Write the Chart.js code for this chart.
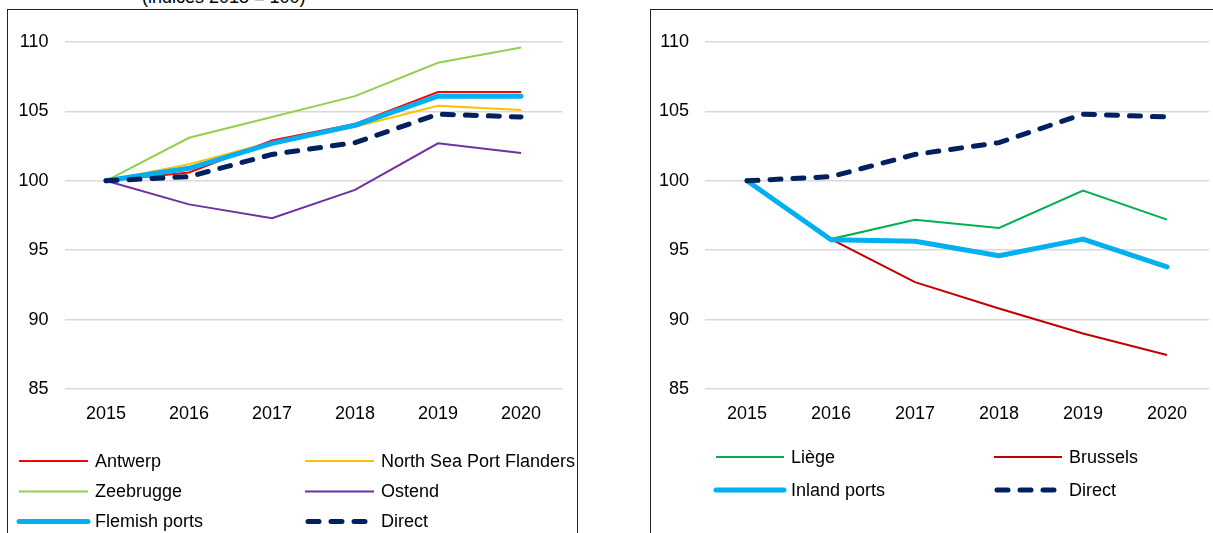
<!DOCTYPE html>
<html lang="en">
<head>
  <meta charset="UTF-8" />
  <title>Port indices 2015 = 100</title>
  <style>
    body {
      margin: 0;
      width: 1213px;
      height: 533px;
      overflow: hidden;
      position: relative;
      background: #fff;
      font-family: 'Liberation Sans', Arial, sans-serif;
    }
    .panel {
      position: absolute;
      border: 1px solid #222;
      box-sizing: border-box;
    }
    #panel-left { left: 7px; top: 9px; width: 571px; height: 560px; }
    #panel-right { left: 650px; top: 9px; width: 600px; height: 560px; }
    .title {
      position: absolute;
      left: 142px;
      top: -13px;
      font-size: 18px;
      line-height: 20px;
      color: #000;
      white-space: nowrap;
    }
    canvas { position: absolute; }
    #chart-left { left: 8px; top: 10px; }
    #chart-right { left: 651px; top: 10px; }
  </style>
</head>
<body>
  <div class="panel" id="panel-left"></div>
  <div class="panel" id="panel-right"></div>
  <div class="title">(indices 2015 = 100)</div>
  <canvas id="chart-left" width="568" height="523"></canvas>
  <canvas id="chart-right" width="562" height="523"></canvas>

  <script src="https://cdn.jsdelivr.net/npm/chart.js"></script>
  <script>
    const years = ['2015', '2016', '2017', '2018', '2019', '2020'];

    // left panel: sea ports
    const antwerp = [100, 100.6, 102.9, 104.1, 106.4, 106.4];
    const northSeaPort = [100, 101.2, 102.8, 103.9, 105.4, 105.1];
    const zeebrugge = [100, 103.1, 104.6, 106.1, 108.5, 109.6];
    const ostend = [100, 98.3, 97.3, 99.35, 102.7, 102.0];
    const flemishPorts = [100, 100.9, 102.7, 104.0, 106.1, 106.1];
    const direct = [100, 100.3, 101.9, 102.75, 104.8, 104.6];

    // right panel: inland ports
    const liege = [100, 95.8, 97.2, 96.6, 99.3, 97.2];
    const brussels = [100, 95.8, 92.7, 90.8, 89.0, 87.45];
    const inlandPorts = [100, 95.75, 95.65, 94.6, 95.8, 93.8];

    const FONT = "'Liberation Sans', Arial, sans-serif";
    Chart.defaults.font.family = FONT;
    Chart.defaults.font.size = 18;
    Chart.defaults.color = '#000';

    // two-column legend drawn under the plot
    const gridLegend = {
      id: 'gridLegend',
      afterDraw(chart, args, opts) {
        const ctx = chart.ctx;
        chart.data.datasets.forEach((ds, i) => {
          const x = opts.cols[i % 2];
          const y = opts.rows[Math.floor(i / 2)];
          ctx.save();
          ctx.strokeStyle = ds.borderColor;
          ctx.lineWidth = ds.borderWidth;
          ctx.lineCap = ds.borderCapStyle || 'butt';
          ctx.setLineDash(ds.borderDash || []);
          ctx.beginPath();
          ctx.moveTo(x + (ds.borderDash ? 3 : 0), y);
          ctx.lineTo(x + opts.lineLen - (ds.borderDash ? 3 : 0), y);
          ctx.stroke();
          ctx.setLineDash([]);
          ctx.fillStyle = '#000';
          ctx.font = '18px ' + FONT;
          ctx.textBaseline = 'middle';
          ctx.fillText(ds.label, x + opts.lineLen + opts.gap, y + 1);
          ctx.restore();
        });
      }
    };

    function thin(label, data, color) {
      return { label, data, borderColor: color, backgroundColor: color, borderWidth: 2, pointRadius: 0, order: 2, tension: 0 };
    }
    function thick(label, data) {
      return { label, data, borderColor: '#00B0F0', backgroundColor: '#00B0F0', borderWidth: 5, borderCapStyle: 'round', borderJoinStyle: 'round', pointRadius: 0, order: 1, tension: 0 };
    }
    function dashed(label, data) {
      return { label, data, borderColor: '#002060', backgroundColor: '#002060', borderWidth: 5, borderDash: [11, 12], borderCapStyle: 'round', pointRadius: 0, order: 0, tension: 0 };
    }

    function makeChart(id, datasets, yWidth, padRight, legend) {
      return new Chart(document.getElementById(id), {
        type: 'line',
        data: { labels: years, datasets },
        options: {
          responsive: false,
          animation: false,
          layout: { padding: { top: 32, right: padRight, left: 0, bottom: 0 } },
          scales: {
            x: {
              offset: true,
              grid: { display: false, drawTicks: false },
              border: { display: false },
              ticks: { padding: 14, maxRotation: 0 },
              afterFit(scale) { scale.height = 144; }
            },
            y: {
              min: 85,
              max: 110,
              grid: { color: '#D9D9D9', lineWidth: 1.5, drawTicks: false },
              border: { display: false },
              ticks: { stepSize: 5, padding: 16 },
              afterFit(scale) { scale.width = yWidth; }
            }
          },
          plugins: {
            legend: { display: false },
            tooltip: { enabled: false },
            gridLegend: legend
          }
        },
        plugins: [gridLegend]
      });
    }

    makeChart('chart-left', [
      thin('Antwerp', antwerp, '#FF0000'),
      thin('North Sea Port Flanders', northSeaPort, '#FFC000'),
      thin('Zeebrugge', zeebrugge, '#92D050'),
      thin('Ostend', ostend, '#7030A0'),
      thick('Flemish ports', flemishPorts),
      dashed('Direct', direct)
    ], 56.5, 13.5, { cols: [11, 297], rows: [451, 481.5, 511.5], lineLen: 69, gap: 7 });

    makeChart('chart-right', [
      thin('Liège', liege, '#00B050'),
      thin('Brussels', brussels, '#C00000'),
      thick('Inland ports', inlandPorts),
      dashed('Direct', direct)
    ], 54, 4, { cols: [65, 343], rows: [447, 480], lineLen: 68, gap: 7 });
  </script>
</body>
</html>
